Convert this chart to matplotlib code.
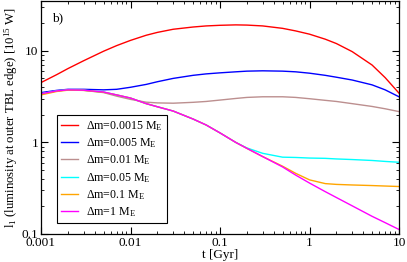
import matplotlib
matplotlib.use('Agg')
import matplotlib.pyplot as plt

plt.rcParams['font.family'] = ['Liberation Serif', 'DejaVu Serif']
plt.rcParams['mathtext.fontset'] = 'custom'
plt.rcParams['mathtext.rm'] = 'Liberation Serif'
plt.rcParams['mathtext.it'] = 'Liberation Serif:italic'

# time in Gyr
t = [0.001, 0.0015, 0.002, 0.003, 0.005, 0.007, 0.01, 0.015, 0.02, 0.03, 0.05, 0.07,
     0.1, 0.15, 0.2, 0.3, 0.5, 0.7, 1, 1.5, 2, 3, 5, 7, 10]

# luminosity at outer TBL edge, 1e15 W
l_0015 = [4.5, 5.5, 6.4, 7.8, 9.9, 11.4, 13.0, 14.8, 15.9, 17.2, 18.2, 18.7,
          19.0, 19.2, 19.1, 18.7, 17.6, 16.5, 15.2, 13.4, 12.0, 9.8, 7.0, 5.1, 3.45]
l_005 = [3.5, 3.7, 3.8, 3.8, 3.75, 3.8, 4.0, 4.3, 4.6, 5.0, 5.4, 5.6,
         5.75, 5.9, 6.0, 6.05, 6.0, 5.9, 5.7, 5.4, 5.15, 4.8, 4.25, 3.75, 3.15]
l_01 = [3.4, 3.65, 3.75, 3.7, 3.5, 3.2, 2.95, 2.75, 2.7, 2.68, 2.74, 2.8,
        2.9, 3.02, 3.1, 3.15, 3.15, 3.1, 3.0, 2.88, 2.8, 2.65, 2.47, 2.33, 2.17]
l_05 = [3.4, 3.65, 3.75, 3.72, 3.55, 3.3, 3.05, 2.65, 2.45, 2.2, 1.8, 1.55,
        1.27, 1.0, 0.87, 0.76, 0.69, 0.685, 0.675, 0.67, 0.66, 0.65, 0.635, 0.62, 0.607]
l_1 = [3.3, 3.6, 3.72, 3.7, 3.53, 3.3, 3.05, 2.65, 2.45, 2.2, 1.8, 1.55,
       1.27, 1.0, 0.86, 0.7, 0.55, 0.46, 0.39, 0.355, 0.348, 0.343, 0.338, 0.334, 0.33]
l_10 = [3.4, 3.65, 3.75, 3.72, 3.55, 3.3, 3.05, 2.65, 2.45, 2.2, 1.8, 1.55,
        1.27, 1.0, 0.86, 0.7, 0.54, 0.44, 0.36, 0.29, 0.25, 0.203, 0.156, 0.133, 0.112]

series = [l_0015, l_005, l_01, l_05, l_1, l_10]
labels = ['\u0394m=0.0015 M$_\\mathrm{E}$', '\u0394m=0.005 M$_\\mathrm{E}$',
          '\u0394m=0.01 M$_\\mathrm{E}$', '\u0394m=0.05 M$_\\mathrm{E}$',
          '\u0394m=0.1 M$_\\mathrm{E}$', '\u0394m=1 M$_\\mathrm{E}$']
colors = ['#ff0000', '#0000ff', '#bc8f8f', '#00ffff', '#ffa500', '#ff00ff']

fig = plt.figure(figsize=(4.07, 2.62), dpi=100)
ax = fig.add_axes([41/407, 1 - 234/262, 358/407, 233/262])

for y, lab, c in zip(series, labels, colors):
    ax.plot(t, y, color=c, lw=1.0, label=lab)

ax.set_xscale('log')
ax.set_yscale('log')
ax.set_xlim(0.001, 10)
ax.set_ylim(0.1, 35)
ax.set_xticks([0.001, 0.01, 0.1, 1, 10])
ax.set_xticklabels(['0.001', '0.01', '0.1', '1', '10'])
ax.set_yticks([0.1, 1, 10])
ax.set_yticklabels(['0.1', '1', '10'])
ax.tick_params(which='both', direction='in', top=True, right=True, labelsize=9.5, pad=2)
ax.tick_params(which='major', length=5, width=0.8)
ax.tick_params(which='minor', length=2.5, width=0.6)
for s in ax.spines.values():
    s.set_linewidth(0.9)

ax.set_xlabel('t [Gyr]', fontsize=9.5, labelpad=0)
ax.set_ylabel('l$_1$ (luminosity at outer TBL edge) [10$^{15}$ W]', fontsize=9.2, labelpad=1)
ax.text(0.03, 0.95, 'b)', transform=ax.transAxes, fontsize=9.5, va='top')

leg = ax.legend(loc='upper left', bbox_to_anchor=(0.045, 0.51), borderaxespad=0,
                fancybox=False, edgecolor='black', framealpha=1, fontsize=8.6,
                handlelength=1.4, handletextpad=0.7, labelspacing=0.28,
                borderpad=0.35)
leg.get_frame().set_linewidth(0.8)

fig.savefig('out.png', dpi=100)
